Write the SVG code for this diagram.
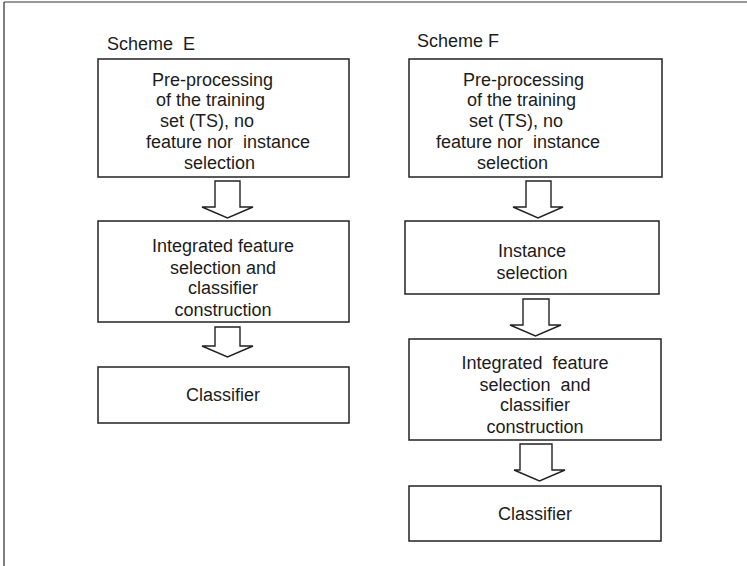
<svg xmlns="http://www.w3.org/2000/svg" width="747" height="566" viewBox="0 0 747 566">
  <style>
    .box { fill: #ffffff; stroke: #222222; stroke-width: 1.5; }
    .arrow { fill: #ffffff; stroke: #222222; stroke-width: 1.4; stroke-linejoin: miter; }
    .lbl { font-family: "Liberation Sans", Arial, sans-serif; font-size: 18px; fill: #1c1c1c; white-space: pre; }
    .mid { text-anchor: middle; }
  </style>

  <!-- page frame -->
  <rect x="0" y="0" width="747" height="566" fill="#ffffff"/>
  <line x1="4" y1="2" x2="747" y2="2" stroke="#999999" stroke-width="2"/>
  <line x1="4" y1="2" x2="4" y2="566" stroke="#555555" stroke-width="1.5"/>

  <!-- column titles -->
  <text class="lbl" x="107" y="50" xml:space="preserve">Scheme  E</text>
  <text class="lbl" x="417" y="47">Scheme F</text>

  <!-- Scheme E -->
  <g id="e-preprocessing">
    <rect class="box" x="98" y="59" width="251" height="118"/>
    <text class="lbl" x="152" y="86">Pre-processing</text>
    <text class="lbl" x="156" y="106">of the training</text>
    <text class="lbl" x="160" y="127">set (TS), no</text>
    <text class="lbl" x="146" y="148" xml:space="preserve">feature nor  instance</text>
    <text class="lbl" x="184" y="169">selection</text>
  </g>
  <g id="e-integrated">
    <rect class="box" x="98" y="221" width="251" height="101"/>
    <text class="lbl mid" x="223" y="252">Integrated feature</text>
    <text class="lbl mid" x="223" y="274">selection and</text>
    <text class="lbl mid" x="223" y="294">classifier</text>
    <text class="lbl mid" x="223" y="316">construction</text>
  </g>
  <g id="e-classifier">
    <rect class="box" x="98" y="367" width="251" height="56"/>
    <text class="lbl mid" x="223" y="401">Classifier</text>
  </g>

  <!-- Scheme F -->
  <g id="f-preprocessing">
    <rect class="box" x="409" y="59" width="253" height="118"/>
    <text class="lbl" x="463" y="86">Pre-processing</text>
    <text class="lbl" x="467" y="106">of the training</text>
    <text class="lbl" x="469" y="127">set (TS), no</text>
    <text class="lbl" x="436" y="148" xml:space="preserve">feature nor  instance</text>
    <text class="lbl" x="477" y="169">selection</text>
  </g>
  <g id="f-instance">
    <rect class="box" x="405" y="221" width="254" height="73"/>
    <text class="lbl mid" x="532" y="257">Instance</text>
    <text class="lbl mid" x="532" y="279">selection</text>
  </g>
  <g id="f-integrated">
    <rect class="box" x="409" y="339" width="252" height="101"/>
    <text class="lbl mid" x="535" y="369" xml:space="preserve">Integrated  feature</text>
    <text class="lbl mid" x="535" y="391" xml:space="preserve">selection  and</text>
    <text class="lbl mid" x="535" y="411">classifier</text>
    <text class="lbl mid" x="535" y="433">construction</text>
  </g>
  <g id="f-classifier">
    <rect class="box" x="409" y="486" width="252" height="55"/>
    <text class="lbl mid" x="535" y="520">Classifier</text>
  </g>

  <!-- block arrows between stages -->
  <g id="connectors">
    <polygon class="arrow" points="215,181 240,181 240,207 253,207 227.5,218 202,207 215,207"/>
    <polygon class="arrow" points="215,327 240,327 240,346 253,346 227.5,357 202,346 215,346"/>
    <polygon class="arrow" points="526,181 551,181 551,207 563,207 538,218 513,207 526,207"/>
    <polygon class="arrow" points="523,299 549,299 549,325 561,325 535.5,336 510,325 523,325"/>
    <polygon class="arrow" points="520,444 552,444 552,470 565,470 539.5,481 514,470 520,470"/>
  </g>
</svg>
